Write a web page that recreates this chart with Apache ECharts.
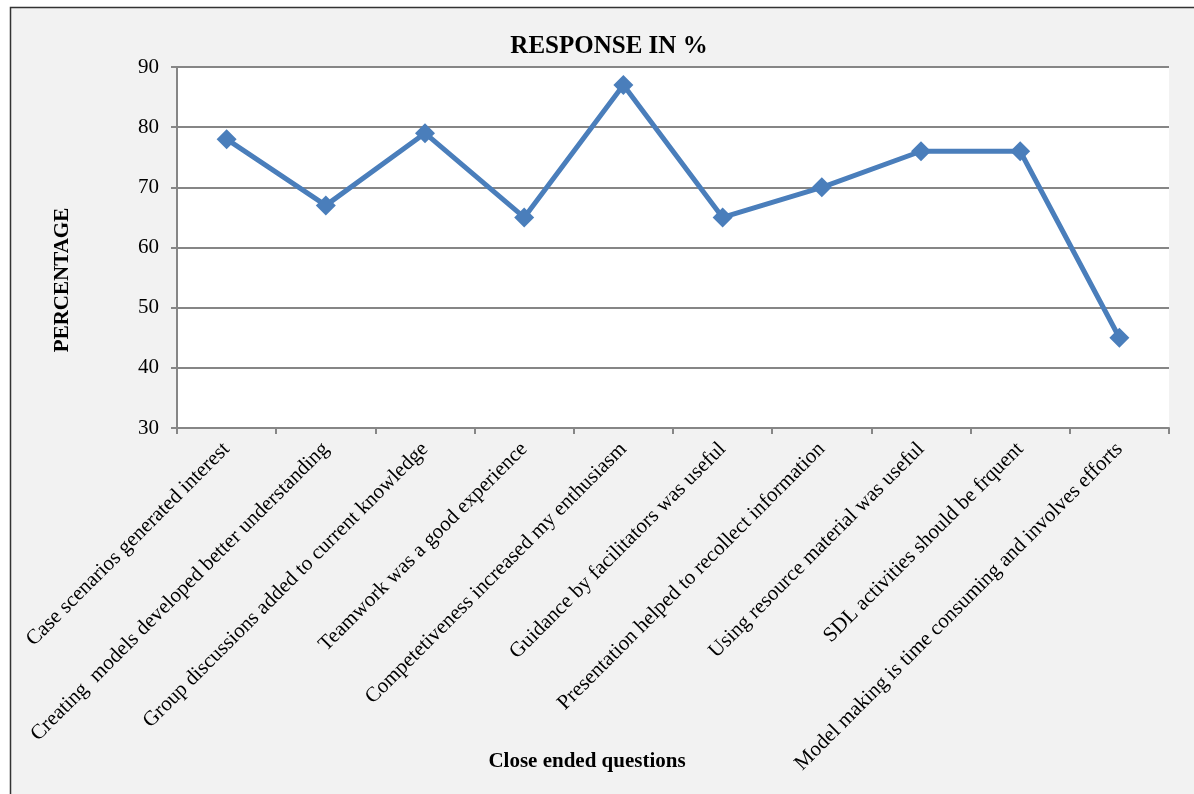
<!DOCTYPE html>
<html>
<head>
<meta charset="utf-8">
<script src="https://cdn.jsdelivr.net/npm/echarts@6/dist/echarts.min.js"></script>
<style>
	html, body { margin: 0; padding: 0; background: #ffffff; }
	#chart { width: 1194px; height: 794px; }
</style>
</head>
<body>
<div id="chart"></div>
<script>
var questions = [
	"Case scenarios generated interest",
	"Creating  models developed better understanding",
	"Group discussions added to current knowledge",
	"Teamwork was a good experience",
	"Competetiveness increased my enthusiasm",
	"Guidance by facilitators was useful",
	"Presentation helped to recollect information",
	"Using resource material was useful",
	"SDL activities should be frquent",
	"Model making is time consuming and involves efforts"
];
var responses = [78, 67, 79, 65, 87, 65, 70, 76, 76, 45];

var serif = "'Liberation Serif', 'DejaVu Serif', serif";

var chart = echarts.init(document.getElementById("chart"));

var option = {
	animation: false,
	graphic: [
		// grey chart area with its frame
		{
			type: "rect", z: -10, silent: true,
			shape: { x: 10.5, y: 7.5, width: 1200, height: 800 },
			style: { fill: "#f2f2f2", stroke: "#333333", lineWidth: 1.5 }
		},
		{
			type: "text", x: 63, y: 280, rotation: Math.PI / 2,
			style: { text: "PERCENTAGE", x: 0, y: 0, font: "bold 21px " + serif, fill: "#000", align: "center", verticalAlign: "middle" }
		},
		{
			type: "text", x: 587, y: 762,
			style: { text: "Close ended questions", x: 0, y: 0, font: "bold 21px " + serif, fill: "#000", align: "center", verticalAlign: "middle" }
		}
	],
	title: {
		text: "RESPONSE IN %",
		left: 604, top: 29, textAlign: "center",
		textStyle: { fontFamily: serif, fontWeight: "bold", fontSize: 25, color: "#000" }
	},
	grid: {
		left: 177, right: 25, top: 67, bottom: 366,
		show: true, backgroundColor: "#ffffff", borderWidth: 0
	},
	xAxis: {
		type: "category",
		data: questions,
		boundaryGap: true,
		axisLine: { lineStyle: { color: "#868686", width: 2 } },
		axisTick: { show: true, length: 6, lineStyle: { color: "#868686", width: 2 } },
		axisLabel: {
			rotate: 45, interval: 0, margin: 18,
			fontFamily: serif, fontSize: 21, color: "#000"
		}
	},
	yAxis: {
		type: "value",
		min: 30, max: 90, interval: 10,
		axisLine: { show: true, lineStyle: { color: "#868686", width: 2 } },
		axisTick: { show: true, length: 6, lineStyle: { color: "#868686", width: 2 } },
		axisLabel: { fontFamily: serif, fontSize: 21, color: "#000", margin: 18 },
		splitLine: { lineStyle: { color: "#868686", width: 2 } }
	},
	series: [{
		type: "line",
		data: responses,
		symbol: "diamond",
		symbolSize: 20,
		lineStyle: { color: "#4a7ebb", width: 5 },
		itemStyle: { color: "#4a7ebb" }
	}]
};

chart.setOption(option);
</script>
</body>
</html>
